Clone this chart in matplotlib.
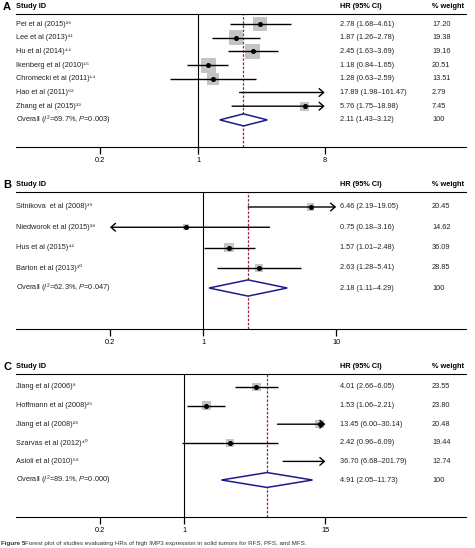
import matplotlib.pyplot as plt
import numpy as np
from matplotlib.patches import Polygon
from matplotlib.transforms import blended_transform_factory

plt.rcParams['font.family'] = ['Liberation Sans', 'DejaVu Sans']
plt.rcParams['mathtext.fontset'] = 'custom'
plt.rcParams['mathtext.rm'] = 'Liberation Sans'
plt.rcParams['mathtext.it'] = 'Liberation Sans:italic'
plt.rcParams['mathtext.bf'] = 'Liberation Sans:bold'

# ---- panel A ----
studies_a = ['Pei et al (2015)\u00b2\u2076', 'Lee et al (2013)\u2074\u00b9', 'Hu et al (2014)\u2074\u2074',
             'Ikenberg et al (2010)\u00b9\u2075', 'Chromecki et al (2011)\u00b9\u2074',
             'Hao et al (2011)\u2076\u00b2', 'Zhang et al (2015)\u00b3\u00b3']
hr_a = [2.78, 1.87, 2.45, 1.18, 1.28, 17.89, 5.76]
lo_a = [1.68, 1.26, 1.63, 0.84, 0.63, 1.98, 1.75]
hi_a = [4.61, 2.78, 3.69, 1.65, 2.59, 161.47, 18.98]
wt_a = [17.20, 19.38, 19.16, 20.51, 13.51, 2.79, 7.45]
overall_a = [2.11, 1.43, 3.12]
overall_lbl_a = 'Overall ($I^2$=69.7%, $P$=0.003)'
ticks_a = [0.2, 1, 8]

# ---- panel B ----
studies_b = ['Sitnikova  et al (2008)\u00b3\u2079', 'Niedworok et al (2015)\u00b3\u2078',
             'Hus et al (2015)\u2074\u00b2', 'Barton et al (2013)\u00b3\u2070']
hr_b = [6.46, 0.75, 1.57, 2.63]
lo_b = [2.19, 0.18, 1.01, 1.28]
hi_b = [19.05, 3.16, 2.48, 5.41]
wt_b = [20.45, 14.62, 36.09, 28.85]
overall_b = [2.18, 1.11, 4.29]
overall_lbl_b = 'Overall ($I^2$=62.3%, $P$=0.047)'
ticks_b = [0.2, 1, 10]

# ---- panel C ----
studies_c = ['Jiang et al (2006)\u2078', 'Hoffmann et al (2008)\u00b2\u2075', 'Jiang et al (2008)\u00b2\u2078',
             'Szarvas et al (2012)\u2074\u2070', 'Asioli et al (2010)\u2075\u2078']
hr_c = [4.01, 1.53, 13.45, 2.42, 36.70]
lo_c = [2.66, 1.06, 6.00, 0.96, 6.68]
hi_c = [6.05, 2.21, 30.14, 6.09, 201.79]
wt_c = [23.55, 23.80, 20.48, 19.44, 12.74]
overall_c = [4.91, 2.05, 11.73]
overall_lbl_c = 'Overall ($I^2$=89.1%, $P$=0.000)'
ticks_c = [0.2, 1, 15]

W, H = 475, 548
fig = plt.figure(figsize=(W / 100, H / 100), dpi=100)

LEFT, RIGHT = 16, 466
FS = 5.3
TXT = '#222222'


def panel(letter, studies, hr, lo, hi, wt, overall, overall_lbl, ticks,
          top, bottom, row0, dy, x1, scale, header_y, box_k):
    ax = fig.add_axes([LEFT / W, 1 - bottom / H, (RIGHT - LEFT) / W, (bottom - top) / H])
    ax.set_xscale('log')
    ax.set_xlim(np.exp((LEFT - x1) / scale), np.exp((RIGHT - x1) / scale))
    ax.set_ylim((bottom - row0) / dy, (top - row0) / dy)
    for s in ['left', 'right']:
        ax.spines[s].set_visible(False)
    for s in ['top', 'bottom']:
        ax.spines[s].set_linewidth(0.8)
    ax.set_yticks([])
    ax.set_xticks(ticks)
    ax.set_xticklabels([('%g' % t) for t in ticks])
    ax.xaxis.set_minor_locator(plt.NullLocator())
    ax.tick_params(axis='x', length=5, width=0.9, labelsize=FS, pad=2.5)

    ax.axvline(1, color='black', lw=0.8)
    ax.axvline(overall[0], color='#9b2335', lw=0.9, ls=(0, (2, 1.3)))

    tlo, thi = ticks[0], ticks[-1]
    tr = blended_transform_factory(ax.transAxes, ax.transData)
    col_hr = (340 - LEFT) / (RIGHT - LEFT)
    col_wt = (432 - LEFT) / (RIGHT - LEFT)

    for i in range(len(studies)):
        if tlo <= hr[i] <= thi:
            side = box_k * np.sqrt(wt[i]) * 0.72
            ax.scatter([hr[i]], [i], marker='s', s=side ** 2, color='#c4c4c4',
                       edgecolors='none', zorder=2)
            ax.plot([hr[i]], [i], 'o', color='black', markersize=2.6, zorder=4)
        a, b = max(lo[i], tlo), min(hi[i], thi)
        if lo[i] < tlo and hi[i] > thi:
            style = '<->'
        elif hi[i] > thi:
            style = '->'
        elif lo[i] < tlo:
            style = '<-'
        else:
            style = '-'
        if style == '-':
            ax.plot([a, b], [i, i], color='black', lw=1.0, zorder=3, solid_capstyle='butt')
        else:
            ax.annotate('', xy=(b, i), xytext=(a, i),
                        arrowprops=dict(arrowstyle=style + ',head_length=0.32,head_width=0.28',
                                        color='black', lw=1.0, shrinkA=0, shrinkB=0),
                        zorder=3)
        ax.text(0, i, studies[i], transform=tr, fontsize=FS, va='center', ha='left', color=TXT)
        ax.text(col_hr, i, '%.2f (%.2f\u2013%.2f)' % (hr[i], lo[i], hi[i]), transform=tr,
                fontsize=FS, va='center', ha='left', color=TXT)
        ax.text(col_wt, i, '%.2f' % wt[i], transform=tr, fontsize=FS, va='center', ha='left',
                color=TXT)

    k = len(studies)
    est, olo, ohi = overall
    h = 0.44 if dy < 15 else 0.4
    dia = Polygon([[olo, k], [est, k - h], [ohi, k], [est, k + h]], closed=True,
                  facecolor='white', edgecolor='#1c1c8a', lw=1.1, zorder=3)
    ax.add_patch(dia)
    ax.text(0, k, overall_lbl, transform=tr, fontsize=FS, va='center', ha='left', color=TXT)
    ax.text(col_hr, k, '%.2f (%.2f\u2013%.2f)' % (est, olo, ohi), transform=tr,
            fontsize=FS, va='center', ha='left', color=TXT)
    ax.text(col_wt, k, '100', transform=tr, fontsize=FS, va='center', ha='left', color=TXT)

    hy = (header_y - row0) / dy
    ax.text(0, hy, 'Study ID', transform=tr, fontsize=FS, fontweight='bold', va='center',
            ha='left', clip_on=False)
    ax.text(col_hr, hy, 'HR (95% CI)', transform=tr, fontsize=FS, fontweight='bold',
            va='center', ha='left', clip_on=False)
    ax.text(col_wt, hy, '% weight', transform=tr, fontsize=FS, fontweight='bold',
            va='center', ha='left', clip_on=False)
    fig.text(3 / W, 1 - (header_y - 0.5) / H, letter, fontsize=8, fontweight='bold',
             va='center', ha='left')
    return ax


panel('A', studies_a, hr_a, lo_a, hi_a, wt_a, overall_a, overall_lbl_a, ticks_a,
      top=14, bottom=147, row0=24, dy=13.7, x1=198, scale=60.9, header_y=7, box_k=3.3)
panel('B', studies_b, hr_b, lo_b, hi_b, wt_b, overall_b, overall_lbl_b, ticks_b,
      top=192, bottom=329, row0=207, dy=20.25, x1=203, scale=57.8, header_y=185, box_k=1.55)
panel('C', studies_c, hr_c, lo_c, hi_c, wt_c, overall_c, overall_lbl_c, ticks_c,
      top=374, bottom=517, row0=387, dy=18.6, x1=184, scale=52.2, header_y=367, box_k=1.85)

fig.text(1 / W, 1 - 544 / H, 'Figure 5', fontsize=4.5, fontweight='bold', ha='left',
         va='center', color='#333333')
fig.text(25 / W, 1 - 544 / H,
         'Forest plot of studies evaluating HRs of high IMP3 expression in solid tumors for RFS, PFS, and MFS.',
         fontsize=4.5, ha='left', va='center', color='#333333')

fig.savefig('out.png', dpi=100)
